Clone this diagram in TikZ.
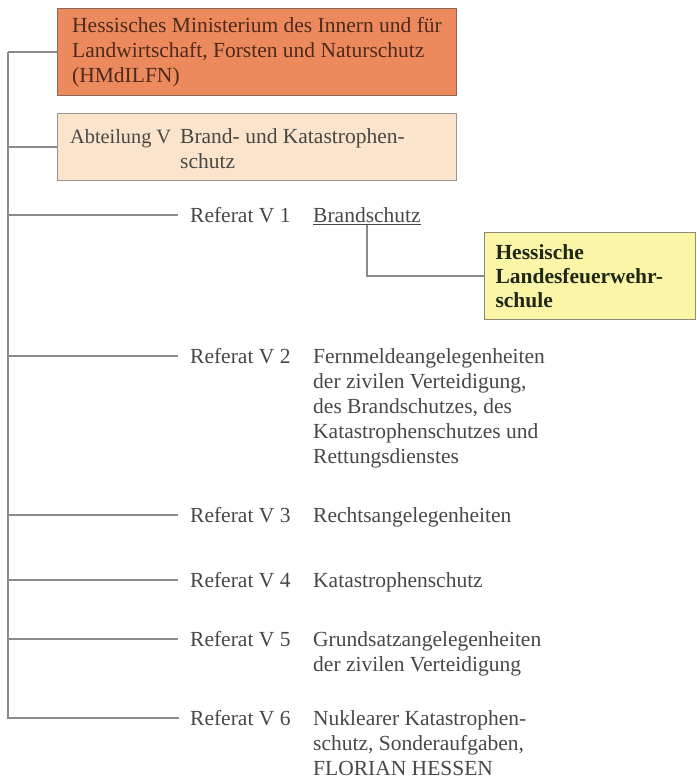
\documentclass[tikz,border=0pt]{standalone}
\usepackage{fontspec}
\setmainfont{Liberation Serif}
\definecolor{minfill}{HTML}{EC8A5E}
\definecolor{minborder}{HTML}{8C6A5A}
\definecolor{abtfill}{HTML}{FBE3CC}
\definecolor{abtborder}{HTML}{9A948E}
\definecolor{lfsfill}{HTML}{FBF5A8}
\definecolor{lfsborder}{HTML}{8C8C78}
\definecolor{txt}{HTML}{464846}
\definecolor{mintxt}{HTML}{4E2A1C}
\definecolor{lfstxt}{HTML}{1E2814}
\definecolor{conn}{HTML}{8A8C88}
\tikzset{
  basefont/.style={font=\fontsize{21.5}{25}\selectfont},
  box/.style={basefont, draw, line width=1pt, anchor=north west, inner ysep=0pt, align=left},
  lbl/.style={basefont, text=txt, anchor=base west, inner sep=0pt},
  connector/.style={draw=conn, line width=1.5pt},
}
\begin{document}
\begin{tikzpicture}[x=1pt,y=-1pt]
\useasboundingbox (0,0) rectangle (696,784);
% boxes
\node[box, fill=minfill, draw=minborder, text=mintxt, minimum width=399pt, minimum height=87pt,
      inner xsep=0pt] (min) at (57,8)
  {Hessisches Ministerium des Innern und für\\Landwirtschaft, Forsten und Naturschutz\\(HMdILFN)\hspace*{0pt}};
\node[box, fill=abtfill, draw=abtborder, minimum width=399pt, minimum height=67pt] (abt) at (57,113) {};
\node[lbl, font=\fontsize{20.3}{25}\selectfont] (abtl) at (70,143) {Abteilung V};
\node[lbl] (abtd) at (180,143) {\begin{tabular}[t]{@{}l@{}}Brand- und Katastrophen-\\schutz\end{tabular}};
\node[box, fill=lfsfill, draw=lfsborder, text=lfstxt, minimum width=211pt, minimum height=87pt,
      inner xsep=11pt, text width=189pt, font=\fontsize{21.5}{24}\selectfont\bfseries] (lfs) at (484,232)
  {Hessische\\Landesfeuerwehr-\\schule};
% Referate
\node[lbl] (r1) at (190,222) {Referat V 1};
\node[lbl, inner ysep=2.5pt] (d1) at (313,222) {Brandschutz};
\node[lbl] (r2) at (190,363) {Referat V 2};
\node[lbl] (d2) at (313,363) {\begin{tabular}[t]{@{}l@{}}Fernmeldeangelegenheiten\\der zivilen Verteidigung,\\des Brandschutzes, des\\Katastrophenschutzes und\\Rettungsdienstes\end{tabular}};
\node[lbl] (r3) at (190,522) {Referat V 3};
\node[lbl] (d3) at (313,522) {Rechtsangelegenheiten};
\node[lbl] (r4) at (190,587) {Referat V 4};
\node[lbl] (d4) at (313,587) {Katastrophenschutz};
\node[lbl] (r5) at (190,646) {Referat V 5};
\node[lbl] (d5) at (313,646) {\begin{tabular}[t]{@{}l@{}}Grundsatzangelegenheiten\\der zivilen Verteidigung\end{tabular}};
\node[lbl] (r6) at (190,725) {Referat V 6};
\node[lbl] (d6) at (313,725) {\begin{tabular}[t]{@{}l@{}}Nuklearer Katastrophen-\\schutz, Sonderaufgaben,\\FLORIAN HESSEN\end{tabular}};
% trunk
\coordinate (trunktop) at (8,52);
\foreach \r in {1,...,6} {
  \coordinate (e\r) at ([xshift=-12pt,yshift=7pt]r\r.base west);
}
\coordinate (trunkbot) at (trunktop |- e6);
\draw[connector] (trunktop) -- (trunkbot);
\draw[connector] (trunktop) -- (trunktop -| min.west);
\draw[connector] (trunktop |- abt.west) -- (abt.west);
\foreach \r in {1,...,5} {
  \draw[connector] (trunktop |- e\r) -- (e\r);
}
\draw[connector, line cap=rect] (trunkbot) -- (e6);
% Brandschutz underline and link
\draw[draw=txt, line width=1pt] (d1.south west) -- (d1.south east);
\draw[connector] (d1.south) |- (lfs.west);
\end{tikzpicture}
\end{document}
